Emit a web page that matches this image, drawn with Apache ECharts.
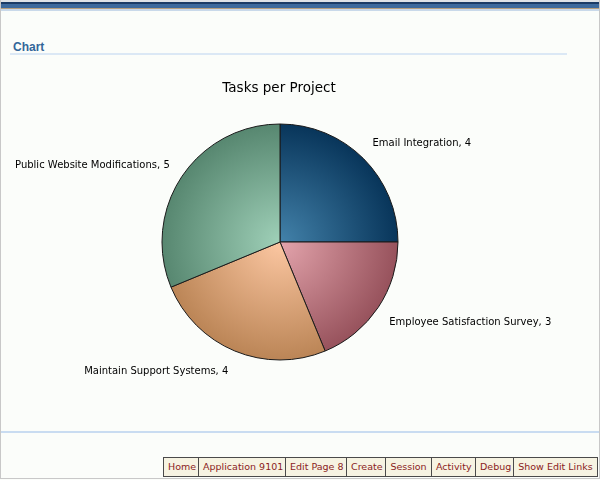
<!DOCTYPE html>
<html><head><meta charset="utf-8">
<script src="https://cdn.jsdelivr.net/npm/echarts@6/dist/echarts.min.js"></script>
<style>
html,body{margin:0;padding:0;}
body{width:600px;height:480px;position:relative;overflow:hidden;background:#fbfdfa;font-family:"DejaVu Sans",Verdana,sans-serif;}
#frame{position:absolute;left:0;top:0;width:598px;height:478px;border:1px solid #c8c8c8;border-top:none;}
#topbar{position:absolute;left:1px;top:0;width:598px;height:11px;}
#topbar .a{height:2px;background:#dfe3e6;}
#topbar .b{height:2px;background:#1b3c66;}
#topbar .c{height:4px;background:#3d6a9c;}
#topbar .d{height:1px;background:#b79f7c;}
#topbar .e{height:2px;background:#c9d9ea;}
#heading{position:absolute;left:13px;top:40px;font-family:Arial,"Liberation Sans",sans-serif;font-weight:bold;font-size:12px;color:#336699;}
#hline{position:absolute;left:10px;top:53px;width:557px;height:2px;background:#dbe8f5;}
#footline{position:absolute;left:1px;top:431px;width:598px;height:2px;background:#c9dcf1;}
#chart{position:absolute;left:0;top:0;width:600px;height:480px;}
#mask{position:absolute;left:1px;top:150px;width:15px;height:25px;background:#fbfdfa;}
#buttons{position:absolute;left:163px;top:457px;height:18px;display:flex;border:1px solid #4a4a4a;}
#buttons span{display:block;height:18px;line-height:18px;padding:0 4px;font-family:Verdana,"DejaVu Sans",sans-serif;font-size:9.5px;color:#8b1c1c;background:#f6f3e2;border-left:1px solid #4a4a4a;box-sizing:border-box;white-space:nowrap;}
#buttons span:first-child{border-left:none;}
</style></head>
<body>
<div id="frame"></div>
<div id="topbar"><div class="a"></div><div class="b"></div><div class="c"></div><div class="d"></div><div class="e"></div></div>
<div id="heading">Chart</div>
<div id="hline"></div>
<div id="chart"></div>
<div id="mask"></div>
<div id="footline"></div>
<div id="buttons"></div>
<script>
const title = 'Tasks per Project';
const projects = ['Email Integration', 'Employee Satisfaction Survey', 'Maintain Support Systems', 'Public Website Modifications'];
const taskCounts = [4, 3, 4, 5];
const footerLinks = ['Home', 'Application 9101', 'Edit Page 8', 'Create', 'Session', 'Activity', 'Debug', 'Show Edit Links'];

const btnWidths = [34, 87, 61, 39, 46, 44, 38, 84];
const bw = document.getElementById('buttons');
footerLinks.forEach((t, i) => {
  const s = document.createElement('span');
  s.textContent = t;
  s.style.width = btnWidths[i] + 'px';
  s.style.textAlign = 'center';
  bw.appendChild(s);
});

const CX = 280, CY = 242, R = 118;
const grads = [
  ['#4382aa', '#08355a'],
  ['#e3a4ac', '#97525c'],
  ['#fcc7a2', '#bb8556'],
  ['#9fd0b8', '#578770']
];
// small per-label nudges (pixels) to match the reference label placement
const labelNudge = [[-3, -3], [-3, 5], [0, 5], [2, -2]];
function radial(c) {
  return {type: 'radial', x: CX, y: CY, r: R, global: true,
    colorStops: [{offset: 0, color: c[0]}, {offset: 1, color: c[1]}]};
}

const chart = echarts.init(document.getElementById('chart'), null, {renderer: 'canvas'});
chart.setOption({
  backgroundColor: 'transparent',
  animation: false,
  title: {
    text: title, left: 274, top: 76, textAlign: 'center',
    textStyle: {fontFamily: 'DejaVu Sans', fontWeight: 'normal', fontSize: 13.5, color: '#000'}
  },
  series: [{
    type: 'pie',
    center: [CX, CY],
    radius: R,
    startAngle: 90,
    clockwise: true,
    avoidLabelOverlap: false,
    itemStyle: {borderColor: '#1a1a1a', borderWidth: 1},
    label: {
      show: true, position: 'outside',
      formatter: p => p.name + ', ' + p.value,
      fontFamily: 'DejaVu Sans', fontSize: 10, color: '#000', distanceToLabelLine: 0
    },
    labelLine: {show: false, length: 17, length2: 0},
    labelLayout: p => ({dx: labelNudge[p.dataIndex][0], dy: labelNudge[p.dataIndex][1]}),
    emphasis: {disabled: true},
    data: projects.map((n, i) => ({name: n, value: taskCounts[i], itemStyle: {color: radial(grads[i])}}))
  }]
});
</script>
</body></html>
